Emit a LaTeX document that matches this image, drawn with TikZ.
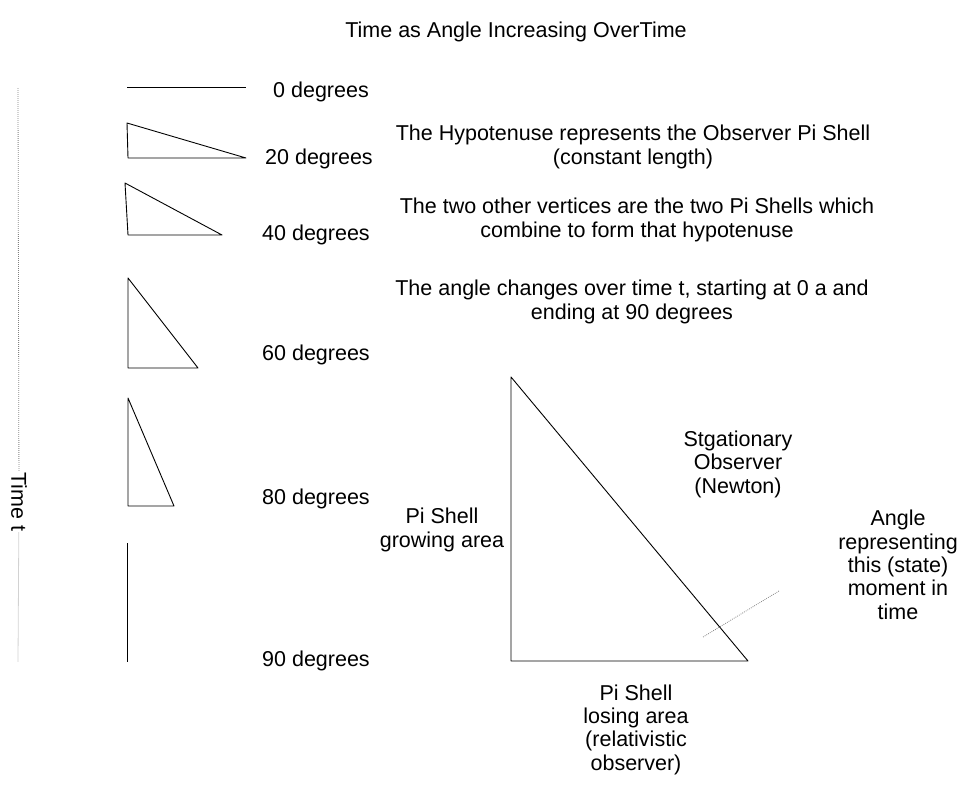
\documentclass[tikz,border=0pt]{standalone}
\usepackage{fontspec}
\setmainfont{Liberation Sans}
\begin{document}
\begin{tikzpicture}[x=1pt,y=-1pt,
  lbl/.style={font=\fontsize{21.5}{23.3}\selectfont, inner sep=0pt, align=center},
  shapeline/.style={line width=0.9pt, black},
  dotline/.style={black!50, line width=0.8pt, dash pattern=on 0.8pt off 1.2pt}]
\useasboundingbox (0,0) rectangle (961,787);

% title
\node[lbl, anchor=base] (title) at (516,37) {Time as Angle Increasing OverTime};

% time axis
\coordinate (ttop) at (18,88);
\coordinate (tbot) at (18,662);
\node[lbl, rotate=-90, inner sep=1pt] (timet) at (19,502) {Time t};
\draw[dotline] (ttop) -- (timet);
\draw[dotline] (timet) -- (tbot);

% 0 degrees
\coordinate (z1) at (127,87);
\coordinate (z2) at (246,87);
\draw[shapeline] (z1) -- (z2);
\node[lbl, anchor=base west] (d0) at (273,97) {0 degrees};

% 20 degrees
\coordinate (a1) at (127,123);
\coordinate (a2) at (128,158);
\coordinate (a3) at (246,158);
\draw[shapeline, line join=round] (a1) -- (a2) -- (a3) -- cycle;
\node[lbl, anchor=base west] (d20) at (265,164) {20 degrees};

% 40 degrees
\coordinate (b1) at (125,183);
\coordinate (b2) at (128,235);
\coordinate (b3) at (222,235);
\draw[shapeline, line join=round] (b1) -- (b2) -- (b3) -- cycle;
\node[lbl, anchor=base west] (d40) at (262,240) {40 degrees};

% 60 degrees
\coordinate (c1) at (128,278);
\coordinate (c2) at (128,368);
\coordinate (c3) at (198,368);
\draw[shapeline, line join=round] (c1) -- (c2) -- (c3) -- cycle;
\node[lbl, anchor=base west] (d60) at (262,360) {60 degrees};

% 80 degrees
\coordinate (e1) at (128,398);
\coordinate (e2) at (128,506);
\coordinate (e3) at (174,506);
\draw[shapeline, line join=round] (e1) -- (e2) -- (e3) -- cycle;
\node[lbl, anchor=base west] (d80) at (262,504) {80 degrees};

% 90 degrees
\coordinate (f1) at (127,543);
\coordinate (f2) at (127,662);
\draw[shapeline] (f1) -- (f2);
\node[lbl, anchor=base west] (d90) at (262,666) {90 degrees};

% explanations (base = last line's baseline)
\node[lbl, anchor=base] (hyp) at (633,164) {The Hypotenuse represents the Observer Pi Shell\\(constant length)};
\node[lbl, anchor=base] (two) at (637,237) {The two other vertices are the two Pi Shells which\\combine to form that hypotenuse};
\node[lbl, anchor=base] (chg) at (632,319) {The angle changes over time t, starting at 0 a and\\ending at 90 degrees};

% big triangle
\coordinate (B1) at (511,377);
\coordinate (B2) at (511,661);
\coordinate (B3) at (748,661);
\draw[shapeline, line join=round] (B1) -- (B2) -- (B3) -- cycle;

\node[lbl, anchor=base] (stat) at (738,493) {Stgationary\\Observer\\(Newton)};
\node[lbl, anchor=base] (grow) at (442,547) {Pi Shell\\growing area};
\node[lbl, anchor=base] (angle) at (898,619) {Angle\\representing\\this (state)\\moment in\\time};
\node[lbl, anchor=base] (lose) at (636,770) {Pi Shell\\losing area\\(relativistic\\observer)};

% pointer
\coordinate (p1) at (703,637);
\coordinate (p2) at (779,591);
\draw[dotline] (p1) -- (p2);
\end{tikzpicture}
\end{document}
